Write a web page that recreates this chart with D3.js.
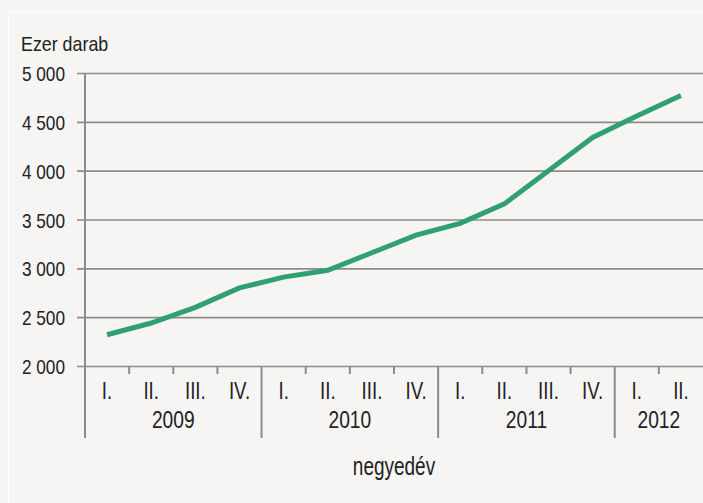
<!DOCTYPE html>
<html>
<head>
<meta charset="utf-8">
<script src="https://cdn.jsdelivr.net/npm/d3@7"></script>
<style>
  body { margin: 0; background: #f6f5f3; }
  text { font-family: "Liberation Sans", Arial, sans-serif; fill: #222; }
</style>
</head>
<body>
<div id="chart"></div>
<script>
// quarterly stock, thousand pieces
var years = ["2009", "2010", "2011", "2012"];
var quartersPerYear = [4, 4, 4, 2];
var quarterNames = ["I.", "II.", "III.", "IV."];
var values = [2320, 2440, 2600, 2800, 2910, 2980, 3160, 3340, 3460, 3660, 4000, 4340, 4560, 4770];
var yTicks = [2000, 2500, 3000, 3500, 4000, 4500, 5000];

var svgWidth = 703, svgHeight = 503;
var margin = { top: 73, right: 0, bottom: 137, left: 85 };
var width = svgWidth - margin.left - margin.right;
var height = svgHeight - margin.top - margin.bottom;

var svg = d3.select("#chart").append("svg")
    .attr("width", svgWidth)
    .attr("height", svgHeight);

svg.append("rect")
    .attr("x", 8.5).attr("y", 12.5)
    .attr("width", svgWidth).attr("height", svgHeight)
    .attr("fill", "#f6f5f3")
    .attr("stroke", "#ffffff");

var chartGroup = svg.append("g")
    .attr("transform", `translate(${margin.left}, ${margin.top})`);

// narrow-looking text at (px, py)
function label(parent, px, py, anchor, txt, size, sq) {
    return parent.append("text")
        .attr("transform", `translate(${px},${py}) scale(${sq},1)`)
        .attr("text-anchor", anchor)
        .style("font-size", size + "px")
        .text(txt);
}

// build category list
var cats = [];
years.forEach(function (y, yi) {
    for (var q = 0; q < quartersPerYear[yi]; q++) {
        cats.push({ year: y, q: quarterNames[q], key: y + "-" + q, first: q === 0 });
    }
});
cats.forEach(function (c, i) { c.value = values[i]; });

var x = d3.scaleBand().domain(cats.map(c => c.key)).range([0, width]);
var y = d3.scaleLinear().domain([2000, 5000]).range([height, 0]);

// gridlines + y labels
var yAxis = d3.axisLeft(y).tickValues(yTicks).tickSize(0)
    .tickFormat(d => d3.format(",")(d).replace(",", " "));
var yg = chartGroup.append("g").call(yAxis);
yg.select(".domain").remove();
yg.selectAll(".tick line")
    .attr("x1", -8)
    .attr("x2", width)
    .attr("stroke", "#8c8b8d")
    .attr("stroke-width", 1.6);
yg.selectAll(".tick text")
    .attr("x", null)
    .attr("dy", null)
    .attr("transform", "translate(-20,7.5) scale(0.82,1)")
    .style("font-size", "21px")
    .style("font-family", "'Liberation Sans', Arial, sans-serif")
    .attr("fill", "#222");

// left axis line
chartGroup.append("line")
    .attr("x1", 0).attr("x2", 0)
    .attr("y1", 0).attr("y2", height + 72)
    .attr("stroke", "#8c8b8d").attr("stroke-width", 2);

// quarter ticks and year separators
cats.forEach(function (c) {
    var x0 = x(c.key);
    if (x0 === 0) return;
    chartGroup.append("line")
        .attr("x1", x0).attr("x2", x0)
        .attr("y1", height).attr("y2", height + (c.first ? 72 : 8))
        .attr("stroke", "#8c8b8d").attr("stroke-width", 2);
});

// quarter labels
cats.forEach(function (c) {
    label(chartGroup, x(c.key) + x.bandwidth() / 2, height + 33, "middle", c.q, 24, 0.78);
});

// year labels
years.forEach(function (yr) {
    var ks = cats.filter(c => c.year === yr);
    var x0 = x(ks[0].key), x1 = x(ks[ks.length - 1].key) + x.bandwidth();
    label(chartGroup, (x0 + x1) / 2, height + 62, "middle", yr, 24, 0.8);
});

// line
var line = d3.line()
    .x(d => x(d.key) + x.bandwidth() / 2)
    .y(d => y(d.value));

chartGroup.append("path")
    .datum(cats)
    .attr("d", line)
    .attr("fill", "none")
    .attr("stroke", "#2fa070")
    .attr("stroke-width", 5);

// axis titles
label(svg, 21, 51, "start", "Ezer darab", 21, 0.85);
label(svg, 394, 475, "middle", "negyedév", 25, 0.76);
</script>
</body>
</html>
